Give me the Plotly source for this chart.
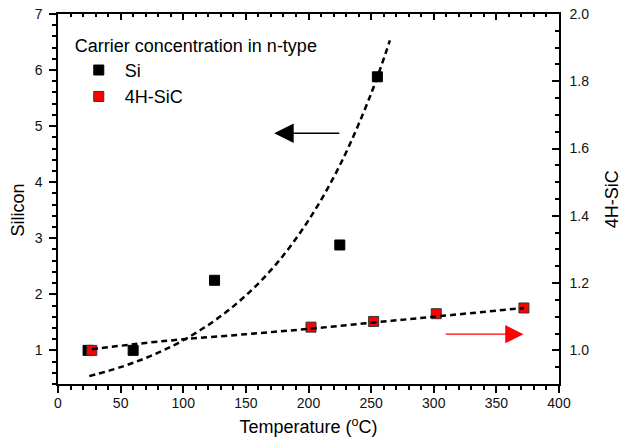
import plotly.graph_objects as go

# Measured carrier concentration (normalised) vs temperature
si_temp = [24, 60, 125, 225, 255]
si_conc = [1.0, 1.0, 2.25, 2.88, 5.88]

sic_temp = [27, 202, 252, 302, 372]
sic_conc = [1.0, 1.069, 1.086, 1.109, 1.126]

# Fitted trend curves
si_fit_temp = [25, 50, 75, 100, 125, 150, 175, 200, 225, 250, 265]
si_fit_conc = [0.54, 0.70, 0.91, 1.18, 1.53, 1.98, 2.56, 3.32, 4.30, 5.58, 6.53]

sic_fit_temp = [27, 60, 100, 150, 200, 250, 300, 372]
sic_fit_conc = [1.003, 1.018, 1.033, 1.048, 1.064, 1.082, 1.100, 1.126]

FONT = "Liberation Sans, Arial, sans-serif"
INK = "#111111"

fig = go.Figure()

fig.add_trace(go.Scatter(
    x=si_temp, y=si_conc, mode="markers", name="Si",
    marker=dict(symbol="square", size=10, color="black",
                line=dict(color="black", width=1)),
    yaxis="y",
))
fig.add_trace(go.Scatter(
    x=si_fit_temp, y=si_fit_conc, mode="lines", showlegend=False,
    line=dict(color="black", width=2.5, dash="6px,4px", shape="spline"),
    yaxis="y",
))
fig.add_trace(go.Scatter(
    x=sic_temp, y=sic_conc, mode="markers", name="4H-SiC",
    marker=dict(symbol="square", size=10, color="#ff0000",
                line=dict(color="#333333", width=1)),
    yaxis="y2",
))
fig.add_trace(go.Scatter(
    x=sic_fit_temp, y=sic_fit_conc, mode="lines", showlegend=False,
    line=dict(color="black", width=2.5, dash="6px,4px", shape="spline"),
    yaxis="y2",
))
# invisible trace so the top (mirror) axis is drawn
fig.add_trace(go.Scatter(x=[0], y=[0.4], mode="markers", showlegend=False,
                         marker=dict(opacity=0), xaxis="x2", yaxis="y",
                         hoverinfo="skip"))

tickfont = dict(family=FONT, size=14, color=INK)
titlefont = dict(family=FONT, size=18, color="black")


def ticks(direction, major=7, minor=4):
    return dict(ticks=direction, ticklen=major, tickwidth=1.5, tickcolor="black",
                minor=dict(ticks=direction, ticklen=minor, tickwidth=1.5,
                           tickcolor="black"))


fig.update_layout(
    width=624, height=447,
    margin=dict(l=58, r=65, t=14, b=63, autoexpand=False),
    paper_bgcolor="white", plot_bgcolor="white",
    font=dict(family=FONT, color="black"),
    xaxis=dict(
        range=[0, 400], dtick=50, tick0=0, automargin=False,
        showline=True, linecolor="black", linewidth=1.5,
        **ticks("outside"),
        showgrid=False, zeroline=False, tickfont=tickfont, ticklabelstandoff=-2,
        title=dict(text="Temperature (<sup>o</sup>C)", font=titlefont, standoff=11),
    ),
    xaxis2=dict(
        range=[0, 400], dtick=50, tick0=0, overlaying="x", side="top",
        automargin=False,
        showline=True, linecolor="black", linewidth=1.5,
        **ticks("inside", 6, 3),
        showticklabels=False, showgrid=False, zeroline=False,
    ),
    yaxis=dict(
        range=[0.4, 7], dtick=1, tick0=0, automargin=False,
        showline=True, linecolor="black", linewidth=1.5,
        **ticks("outside"),
        showgrid=False, zeroline=False, tickfont=tickfont, ticklabelstandoff=4,
    ),
    yaxis2=dict(
        range=[0.9, 2.0], dtick=0.2, tick0=1.0, tickformat=".1f",
        overlaying="y", side="right", automargin=False,
        showline=True, linecolor="black", linewidth=1.5,
        **ticks("inside"),
        showgrid=False, zeroline=False, tickfont=tickfont, ticklabelstandoff=6,
    ),
    legend=dict(
        x=0.0295, y=0.961, xanchor="left", yanchor="top",
        bgcolor="rgba(0,0,0,0)", borderwidth=0, itemwidth=42,
        font=dict(family=FONT, size=18, color="black"),
        title=dict(text="Carrier concentration in n-type",
                   font=dict(family=FONT, size=18, color="black"), side="top"),
        tracegroupgap=0,
    ),
    annotations=[
        # axis titles
        dict(text="Silicon", textangle=-90, x=-0.079, y=0.470,
             xref="paper", yref="paper", showarrow=False, font=titlefont,
             xanchor="center", yanchor="middle"),
        dict(text="4H-SiC", textangle=-90, x=1.1065, y=0.5,
             xref="paper", yref="paper", showarrow=False, font=titlefont,
             xanchor="center", yanchor="middle"),
        # direction arrows pointing to each series' axis
        dict(x=172.6, y=4.875, xref="x", yref="y",
             ax=225.8, ay=4.875, axref="x", ayref="y",
             showarrow=True, arrowhead=2, arrowsize=2.6, arrowwidth=1.5,
             arrowcolor="black", text=""),
        dict(x=371.6, y=1.048, xref="x", yref="y2",
             ax=308.3, ay=1.048, axref="x", ayref="y2",
             showarrow=True, arrowhead=2, arrowsize=2.8, arrowwidth=1.3,
             arrowcolor="#ff0000", text=""),
    ],
)

fig.write_html("out.html")
